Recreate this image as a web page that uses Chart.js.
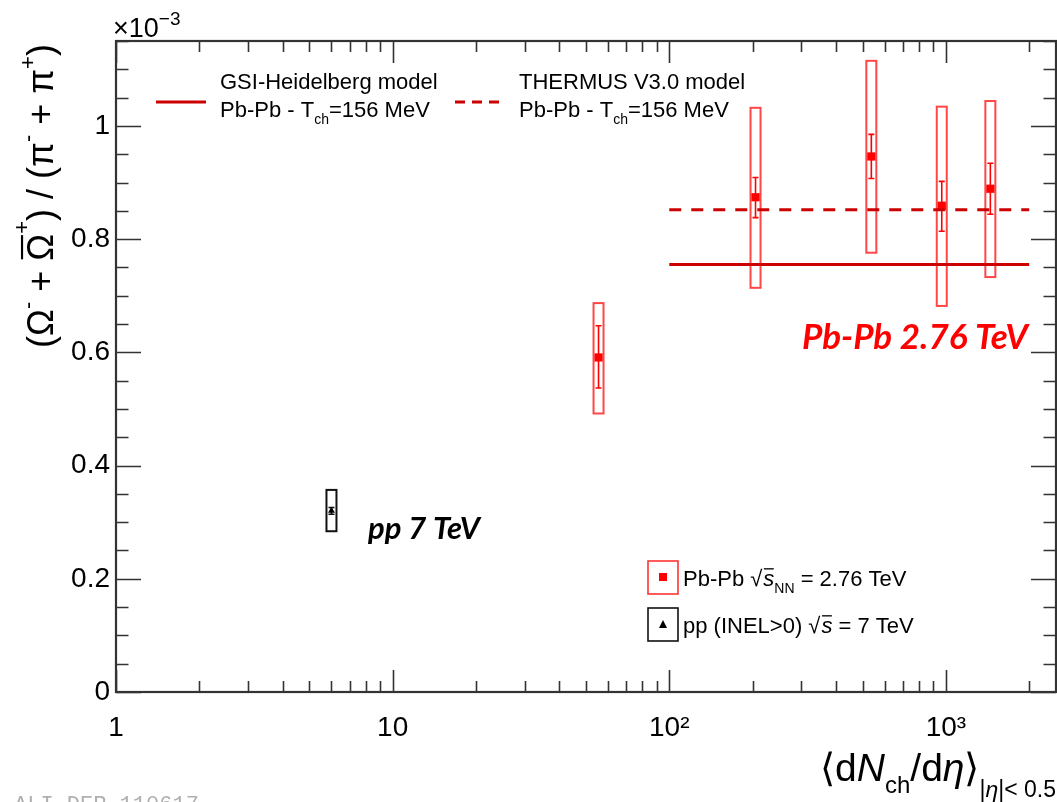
<!DOCTYPE html>
<html>
<head>
<meta charset="utf-8">
<script src="https://cdn.jsdelivr.net/npm/chart.js@4.4.0/dist/chart.umd.min.js"></script>
<style>
  html, body { margin: 0; background: #fff; }
  #wrap { width: 1057px; height: 802px; position: relative; }
</style>
</head>
<body>
<div id="wrap"><canvas id="chart" width="1057" height="802"></canvas></div>
<script>
// Pb-Pb 2.76 TeV (centrality classes)
const pbX      = [55.5, 205, 537.5, 966, 1447.5];
const pbY      = [0.591, 0.874, 0.946, 0.859, 0.889];
const pbStatLo = [0.537, 0.838, 0.907, 0.814, 0.844];
const pbStatHi = [0.647, 0.909, 0.985, 0.902, 0.934];
const pbSysLo  = [0.492, 0.714, 0.776, 0.682, 0.733];
const pbSysHi  = [0.687, 1.032, 1.115, 1.034, 1.044];

// pp 7 TeV INEL>0
const ppX      = [6.01];
const ppY      = [0.320];
const ppStatLo = [0.314];
const ppStatHi = [0.326];
const ppSysLo  = [0.284];
const ppSysHi  = [0.357];

// model predictions (Pb-Pb, T_ch = 156 MeV)
const modelX     = [100, 2000];
const gsiY       = [0.755, 0.755];
const thermusY   = [0.852, 0.852];

const xTickVals   = [1, 10, 100, 1000];
const xTickLabels = ['1', '10', '10²', '10³'];
const yTickVals   = [0, 0.2, 0.4, 0.6, 0.8, 1];
const yTickLabels = ['0', '0.2', '0.4', '0.6', '0.8', '1'];

const FONT = '"Liberation Sans", Arial, Helvetica, sans-serif';
const RED = '#ff0000';
const MODEL_RED = '#cc0000';

function fontOf(seg, base) {
  const size = Math.round(base * (seg.k || 1));
  return (seg.it ? 'italic ' : '') + (seg.b ? 'bold ' : '') + size + 'px ' + (seg.f || FONT);
}

function richWidth(ctx, segs, base) {
  let w = 0;
  for (const s of segs) { ctx.font = fontOf(s, base); w += ctx.measureText(s.t).width + (s.gap || 0); }
  return w;
}

// draws a list of text pieces with sub/superscripts on one baseline
function drawRich(ctx, segs, x, y, base, align, color) {
  const total = richWidth(ctx, segs, base);
  let cx = align === 'right' ? x - total : align === 'center' ? x - total / 2 : x;
  ctx.fillStyle = color || '#000';
  ctx.textBaseline = 'alphabetic';
  ctx.textAlign = 'left';
  for (const s of segs) {
    ctx.font = fontOf(s, base);
    const w = ctx.measureText(s.t).width;
    const dy = (s.dy || 0) * base;
    ctx.fillText(s.t, cx, y + dy);
    if (s.over) {
      ctx.save();
      ctx.strokeStyle = color || '#000';
      ctx.lineWidth = Math.max(1, base * 0.06);
      const oy = y + dy - base * (s.overY || 0.82);
      ctx.beginPath(); ctx.moveTo(cx + w * 0.05, oy); ctx.lineTo(cx + w * 0.95, oy); ctx.stroke();
      ctx.restore();
    }
    cx += w + (s.gap || 0);
  }
}

const errorPlugin = {
  id: 'errors',
  beforeDatasetsDraw(chart) {
    const { ctx, scales: { x, y } } = chart;
    const drawSet = (xs, lo, hi, sLo, sHi, boxColor, barColor) => {
      ctx.save();
      xs.forEach((v, i) => {
        const px = x.getPixelForValue(v);
        // systematic box
        ctx.strokeStyle = boxColor; ctx.lineWidth = 2;
        const top = y.getPixelForValue(sHi[i]), bot = y.getPixelForValue(sLo[i]);
        ctx.strokeRect(px - 5, top, 10, bot - top);
        // statistical bar
        ctx.strokeStyle = barColor; ctx.lineWidth = 1.6;
        const t = y.getPixelForValue(hi[i]), b = y.getPixelForValue(lo[i]);
        ctx.beginPath();
        ctx.moveTo(px, t); ctx.lineTo(px, b);
        ctx.moveTo(px - 3, t); ctx.lineTo(px + 3, t);
        ctx.moveTo(px - 3, b); ctx.lineTo(px + 3, b);
        ctx.stroke();
      });
      ctx.restore();
    };
    drawSet(pbX, pbStatLo, pbStatHi, pbSysLo, pbSysHi, 'rgba(255,0,0,0.72)', RED);
    drawSet(ppX, ppStatLo, ppStatHi, ppSysLo, ppSysHi, '#111', '#111');
  }
};

const framePlugin = {
  id: 'frame',
  afterDraw(chart) {
    const { ctx, chartArea: a, scales: { x, y } } = chart;
    ctx.save();
    ctx.strokeStyle = '#333';
    ctx.lineWidth = 1.6;
    ctx.beginPath();
    // y ticks, left and right, every 0.05
    for (let k = 0; k * 0.05 <= y.max + 1e-9; k++) {
      const v = k * 0.05;
      const py = Math.round(y.getPixelForValue(v)) + 0.5;
      const len = k % 4 === 0 ? 25 : 12.5;
      ctx.moveTo(a.left, py); ctx.lineTo(a.left + len, py);
      ctx.moveTo(a.right, py); ctx.lineTo(a.right - len, py);
    }
    // x ticks, bottom and top
    for (const d of [1, 10, 100, 1000]) {
      for (let m = 1; m <= 9; m++) {
        const v = m * d;
        if (v > x.max) break;
        const px = Math.round(x.getPixelForValue(v)) + 0.5;
        const len = m === 1 ? 22 : 11;
        ctx.moveTo(px, a.bottom); ctx.lineTo(px, a.bottom - len);
        ctx.moveTo(px, a.top); ctx.lineTo(px, a.top + len);
      }
    }
    ctx.stroke();
    ctx.lineWidth = 2.2;
    ctx.strokeRect(a.left, a.top, a.right - a.left, a.bottom - a.top);
    ctx.restore();

    // ×10^-3
    drawRich(ctx, [{ t: '×10' }, { t: '−3', k: 0.72, dy: -0.45 }], 113, 37, 27, 'left');

    // y-axis title, rotated
    ctx.save();
    ctx.translate(53, 196);
    ctx.rotate(-Math.PI / 2);
    drawRich(ctx, [
      { t: '(Ω' }, { t: '-', k: 0.6, dy: -0.5 },
      { t: ' + ' },
      { t: 'Ω', over: true, overY: 0.86 }, { t: '+', k: 0.6, dy: -0.66 },
      { t: ') / (π' }, { t: '-', k: 0.6, dy: -0.5 },
      { t: ' + π' }, { t: '+', k: 0.6, dy: -0.5 },
      { t: ')' }
    ], 0, 0, 36, 'center');
    ctx.restore();

    // x-axis title
    drawRich(ctx, [
      { t: '⟨d' }, { t: 'N', it: true }, { t: 'ch', k: 0.62, dy: 0.32 },
      { t: '/d' }, { t: 'η', it: true }, { t: '⟩' },
      { t: '|', k: 0.6, dy: 0.42 }, { t: 'η', k: 0.6, dy: 0.42, it: true }, { t: '|< 0.5', k: 0.6, dy: 0.42 }
    ], 1056, 781, 39, 'right');

    // model legend (top)
    ctx.save();
    ctx.strokeStyle = MODEL_RED; ctx.lineWidth = 3;
    ctx.beginPath(); ctx.moveTo(156, 102); ctx.lineTo(206, 102); ctx.stroke();
    ctx.setLineDash([10, 7]);
    ctx.beginPath(); ctx.moveTo(455, 102); ctx.lineTo(501, 102); ctx.stroke();
    ctx.restore();
    drawRich(ctx, [{ t: 'GSI-Heidelberg model' }], 220, 89, 22, 'left');
    drawRich(ctx, [{ t: 'Pb-Pb - T' }, { t: 'ch', k: 0.62, dy: 0.3 }, { t: '=156 MeV' }], 220, 117, 22, 'left');
    drawRich(ctx, [{ t: 'THERMUS V3.0 model' }], 519, 89, 22, 'left');
    drawRich(ctx, [{ t: 'Pb-Pb - T' }, { t: 'ch', k: 0.62, dy: 0.3 }, { t: '=156 MeV' }], 519, 117, 22, 'left');

    // data legend (bottom)
    ctx.save();
    ctx.lineWidth = 1.6;
    ctx.strokeStyle = 'rgba(255,0,0,0.8)';
    ctx.strokeRect(648, 561, 30, 33);
    ctx.fillStyle = RED;
    ctx.fillRect(659, 573, 8, 8);
    ctx.strokeStyle = '#111';
    ctx.strokeRect(648, 608, 30, 33);
    ctx.fillStyle = '#000';
    ctx.beginPath(); ctx.moveTo(663, 620); ctx.lineTo(667, 628); ctx.lineTo(659, 628); ctx.closePath(); ctx.fill();
    ctx.restore();
    drawRich(ctx, [{ t: 'Pb-Pb ' }, { t: '√', gap: 1 }, { t: 's', it: true, over: true, overY: 0.78 },
      { t: 'NN', k: 0.62, dy: 0.3 }, { t: ' = 2.76 TeV' }], 683, 586, 22, 'left');
    drawRich(ctx, [{ t: 'pp (INEL>0) ' }, { t: '√', gap: 1 }, { t: 's', it: true, over: true, overY: 0.78 },
      { t: ' = 7 TeV' }], 683, 633, 22, 'left');

    // system labels
    drawRich(ctx, [{ t: 'Pb-Pb 2.76 TeV', it: true, b: true, f: 'Lato, "Open Sans", sans-serif' }], 802, 349, 35, 'left', RED);
    drawRich(ctx, [{ t: 'pp 7 TeV', it: true, b: true, f: 'Lato, "Open Sans", sans-serif' }], 368, 539, 31, 'left', '#000');

    // figure id
    ctx.save();
    ctx.fillStyle = '#b0b0b0';
    ctx.font = '22px "Liberation Mono", "DejaVu Sans Mono", monospace';
    ctx.textBaseline = 'top';
    ctx.fillText('ALI-DER-110617', 14, 794);
    ctx.restore();
  }
};

new Chart(document.getElementById('chart'), {
  type: 'scatter',
  data: {
    datasets: [
      {
        label: 'GSI-Heidelberg', type: 'line',
        data: modelX.map((v, i) => ({ x: v, y: gsiY[i] })),
        borderColor: MODEL_RED, borderWidth: 3, pointRadius: 0, fill: false
      },
      {
        label: 'THERMUS V3.0', type: 'line',
        data: modelX.map((v, i) => ({ x: v, y: thermusY[i] })),
        borderColor: MODEL_RED, borderWidth: 3, borderDash: [12, 10], pointRadius: 0, fill: false
      },
      {
        label: 'Pb-Pb',
        data: pbX.map((v, i) => ({ x: v, y: pbY[i] })),
        pointStyle: 'rect', pointRadius: 5.8, backgroundColor: RED, borderColor: RED, borderWidth: 0
      },
      {
        label: 'pp',
        data: ppX.map((v, i) => ({ x: v, y: ppY[i] })),
        pointStyle: 'triangle', pointRadius: 4, backgroundColor: '#000', borderColor: '#000', borderWidth: 0
      }
    ]
  },
  options: {
    responsive: false,
    animation: false,
    layout: { autoPadding: false, padding: { left: 0, top: 41, right: 1, bottom: 0 } },
    plugins: { legend: { display: false }, tooltip: { enabled: false } },
    scales: {
      x: {
        type: 'logarithmic', min: 1, max: 2500,
        afterBuildTicks: s => { s.ticks = xTickVals.map(v => ({ value: v })); },
        afterFit: s => { s.height = 110; },
        ticks: { autoSkip: false, maxRotation: 0, padding: 19, color: '#000',
                 font: { family: FONT, size: 28 }, callback: (v, i) => xTickLabels[i] },
        grid: { display: false, drawTicks: false }, border: { display: false }
      },
      y: {
        min: 0, max: 1.15,
        afterBuildTicks: s => { s.ticks = yTickVals.map(v => ({ value: v })); },
        afterFit: s => { s.width = 116; },
        ticks: { padding: 6, color: '#000', font: { family: FONT, size: 28 },
                 callback: (v, i) => yTickLabels[i] },
        grid: { display: false, drawTicks: false }, border: { display: false }
      }
    }
  },
  plugins: [errorPlugin, framePlugin]
});
</script>
</body>
</html>
